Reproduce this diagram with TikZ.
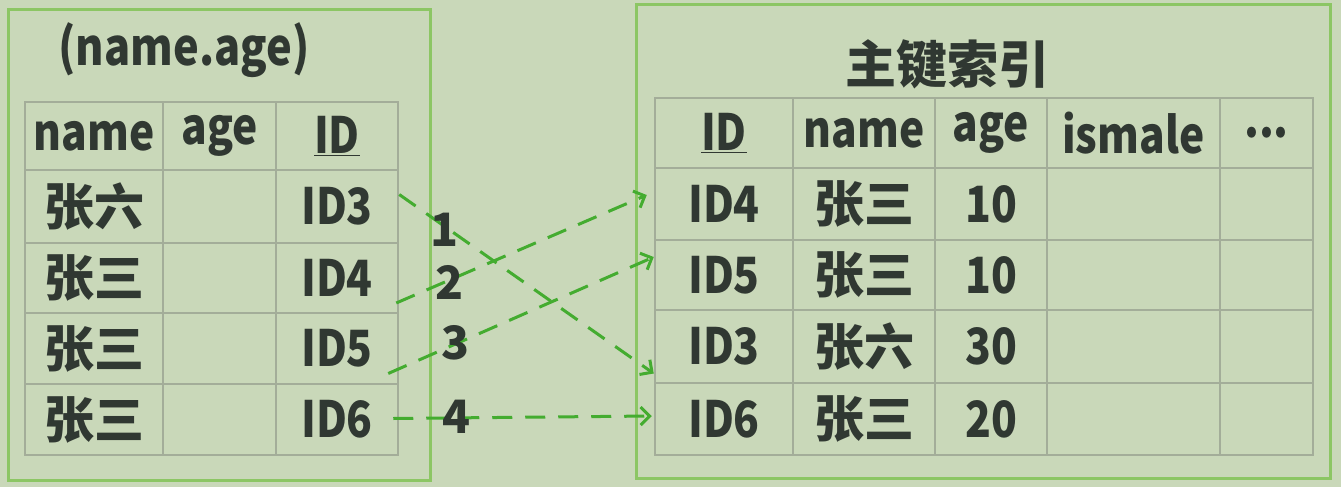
\documentclass[tikz,border=0pt]{standalone}
\usepackage{fontspec}
\setmainfont{Noto Sans CJK SC}
\usepackage{graphicx}
\usetikzlibrary{arrows.meta,calc}
\definecolor{bgc}{RGB}{201,216,185}
\definecolor{boxc}{RGB}{140,198,100}
\definecolor{gridc}{RGB}{163,173,153}
\definecolor{inkc}{RGB}{48,56,50}
\definecolor{arrc}{RGB}{68,172,48}
\newcommand\lat[1]{\scalebox{0.85}[1]{#1}}
\tikzset{
  cell/.style={draw=gridc, line width=2.5pt, inner sep=0pt, text=inkc,
    font=\bfseries\fontsize{50}{54}\selectfont},
  ttl/.style={text=inkc, inner sep=0pt, font=\bfseries\fontsize{51}{56}\selectfont},
  lbl/.style={text=inkc, inner sep=0pt, font=\bfseries\fontsize{46}{50}\selectfont},
  outer/.style={draw=boxc, line width=3pt},
  link/.style={draw=arrc, line width=3pt, dash pattern=on 20pt off 13pt,
    -{Straight Barb[length=9pt,width=18pt,line width=3pt]}}
}
\begin{document}
\begin{tikzpicture}[x=1pt,y=-1pt]
\fill[bgc] (0,0) rectangle (1341,487);
\useasboundingbox (0,0) rectangle (1341,487);
% outer boxes
\draw[outer] (8,10) rectangle (430,480);
\draw[outer] (636,5) rectangle (1330,478);
% titles
\node[ttl] (lt) at (184,50) {\lat{(name.age)}};
\node[ttl] (rt) at (947,64) {主键索引};
% left table
\node[cell,minimum width=138,minimum height=68] (lh1) at (94,136) {\lat{name}};
\node[cell,minimum width=113,minimum height=68] (lh2) at (219.5,136) {\lat{age}};
\node[cell,minimum width=122,minimum height=68] (lh3) at (337,136) {\lat{\underline{ID}}};
\node[cell,minimum width=138,minimum height=73] (la3) at (94,206.5) {张六};
\node[cell,minimum width=113,minimum height=73] (lb3) at (219.5,206.5) {};
\node[cell,minimum width=122,minimum height=73] (l3) at (337,206.5) {\lat{ID3}};
\node[cell,minimum width=138,minimum height=70] (la4) at (94,278) {张三};
\node[cell,minimum width=113,minimum height=70] (lb4) at (219.5,278) {};
\node[cell,minimum width=122,minimum height=70] (l4) at (337,278) {\lat{ID4}};
\node[cell,minimum width=138,minimum height=71] (la5) at (94,348.5) {张三};
\node[cell,minimum width=113,minimum height=71] (lb5) at (219.5,348.5) {};
\node[cell,minimum width=122,minimum height=71] (l5) at (337,348.5) {\lat{ID5}};
\node[cell,minimum width=138,minimum height=71] (la6) at (94,419.5) {张三};
\node[cell,minimum width=113,minimum height=71] (lb6) at (219.5,419.5) {};
\node[cell,minimum width=122,minimum height=71] (l6) at (337,419.5) {\lat{ID6}};
% right table header
\node[cell,minimum width=138,minimum height=70] (rh1) at (724,133) {\lat{\underline{ID}}};
\node[cell,minimum width=142,minimum height=70] (rh2) at (864,133) {\lat{name}};
\node[cell,minimum width=112,minimum height=70] (rh3) at (991,133) {\lat{age}};
\node[cell,minimum width=173,minimum height=70] (rh4) at (1133.5,133) {\lat{ismale}};
\node[cell,minimum width=93,minimum height=70] (rh5) at (1266.5,133) {\lat{...}};
% right rows
\node[cell,minimum width=138,minimum height=72] (r4) at (724,204) {\lat{ID4}};
\node[cell,minimum width=142,minimum height=72] (rb4) at (864,204) {张三};
\node[cell,minimum width=112,minimum height=72] (rc4) at (991,204) {\lat{10}};
\node[cell,minimum width=173,minimum height=72] (rd4) at (1133.5,204) {};
\node[cell,minimum width=93,minimum height=72] (re4) at (1266.5,204) {};
\node[cell,minimum width=138,minimum height=70] (r5) at (724,275) {\lat{ID5}};
\node[cell,minimum width=142,minimum height=70] (rb5) at (864,275) {张三};
\node[cell,minimum width=112,minimum height=70] (rc5) at (991,275) {\lat{10}};
\node[cell,minimum width=173,minimum height=70] (rd5) at (1133.5,275) {};
\node[cell,minimum width=93,minimum height=70] (re5) at (1266.5,275) {};
\node[cell,minimum width=138,minimum height=73] (r3) at (724,346.5) {\lat{ID3}};
\node[cell,minimum width=142,minimum height=73] (rb3) at (864,346.5) {张六};
\node[cell,minimum width=112,minimum height=73] (rc3) at (991,346.5) {\lat{30}};
\node[cell,minimum width=173,minimum height=73] (rd3) at (1133.5,346.5) {};
\node[cell,minimum width=93,minimum height=73] (re3) at (1266.5,346.5) {};
\node[cell,minimum width=138,minimum height=72] (r6) at (724,419) {\lat{ID6}};
\node[cell,minimum width=142,minimum height=72] (rb6) at (864,419) {张三};
\node[cell,minimum width=112,minimum height=72] (rc6) at (991,419) {\lat{20}};
\node[cell,minimum width=173,minimum height=72] (rd6) at (1133.5,419) {};
\node[cell,minimum width=93,minimum height=72] (re6) at (1266.5,419) {};
% links
\draw[link] ($(l3.east)+(0,-12)$) -- ($(r3.west)+(0,27)$);
\draw[link] ($(l4.east)+(-3,25)$) -- ($(r4.west)+(-7,-9)$);
\draw[link] ($(l5.east)+(-11,25)$) -- ($(r5.west)+(0,-18)$);
\draw[link] ($(l6.east)+(-6,-1)$) -- ($(r6.west)+(-2,-3)$);
% order labels
\node[lbl] (n1) at (445,230) {1};
\node[lbl] (n2) at (450,282) {2};
\node[lbl] (n3) at (456,343) {3};
\node[lbl] (n4) at (457,417) {4};
\end{tikzpicture}
\end{document}
